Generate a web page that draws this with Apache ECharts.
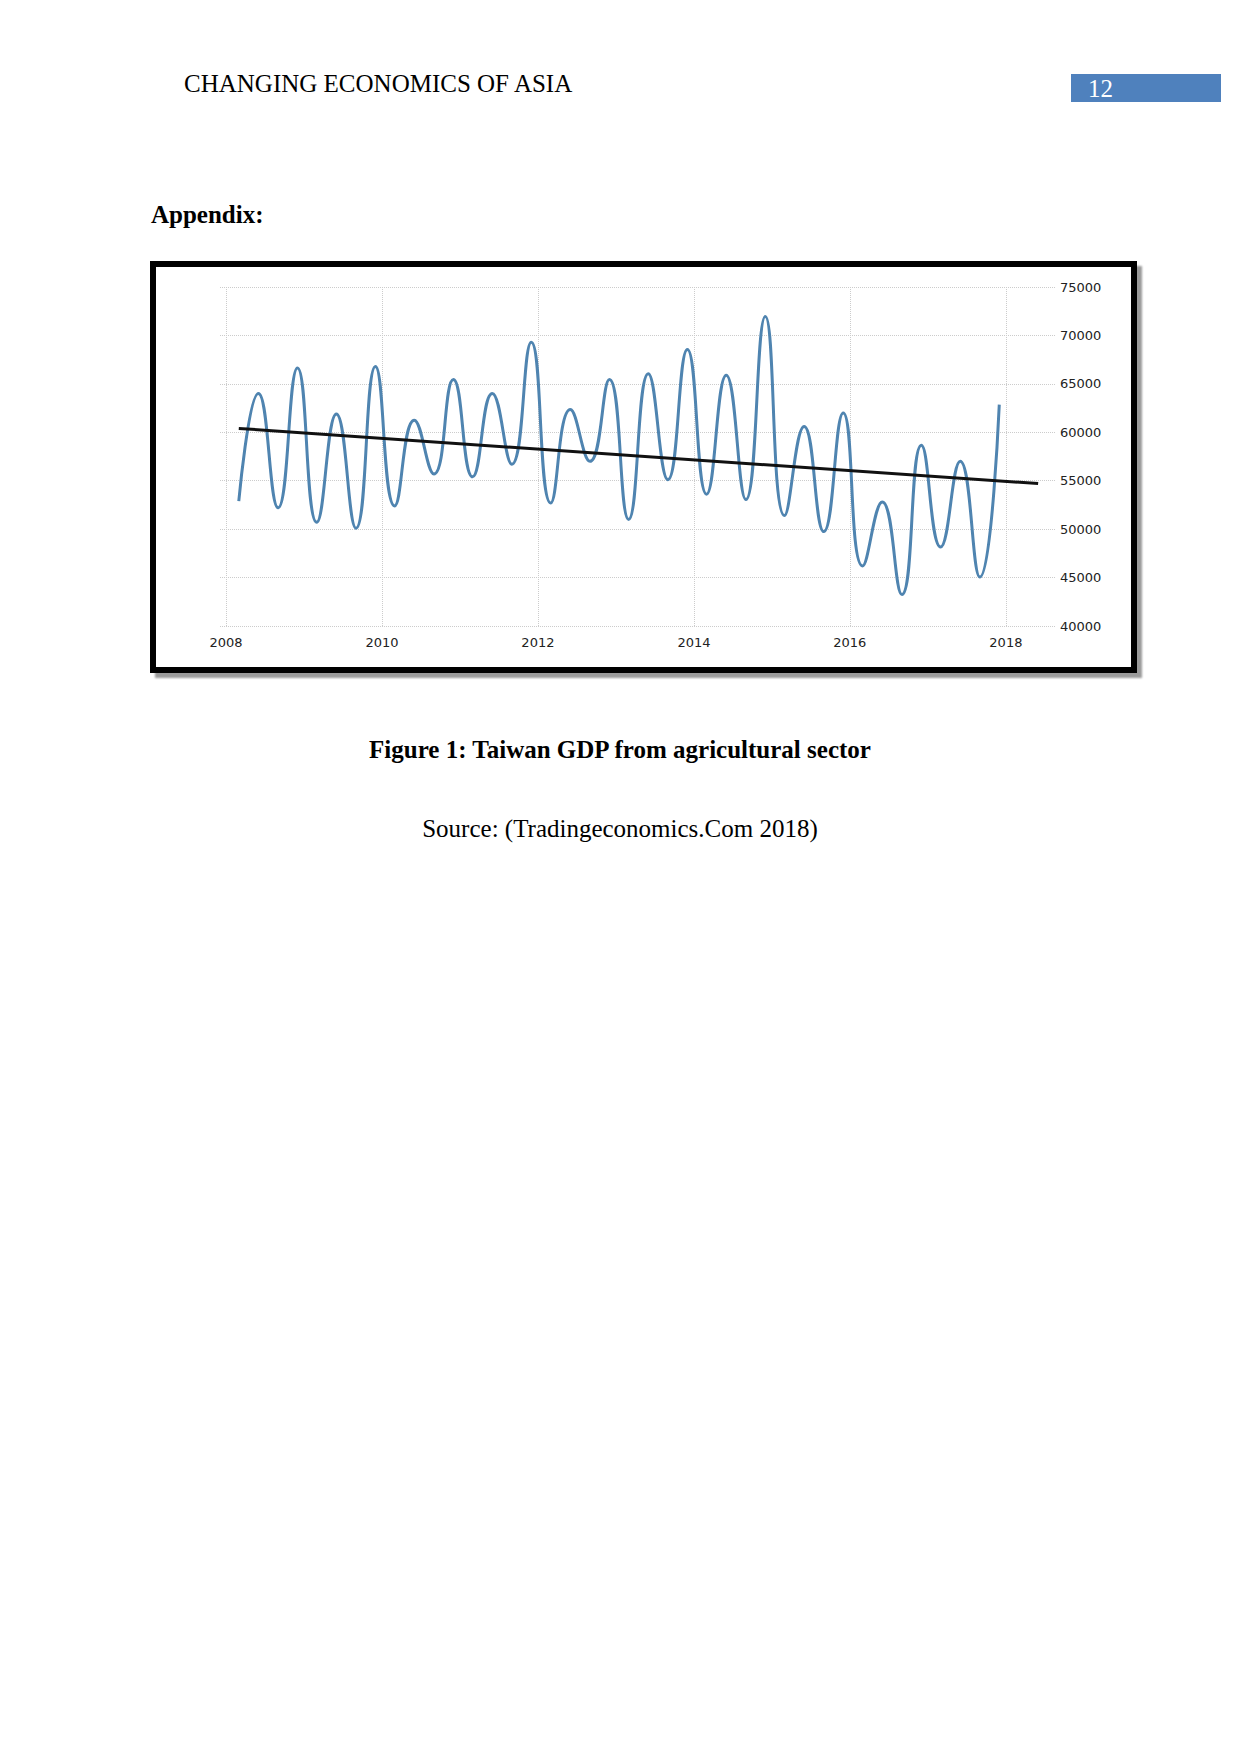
<!DOCTYPE html>
<html>
<head>
<meta charset="utf-8">
<script src="https://cdn.jsdelivr.net/npm/echarts@6/dist/echarts.min.js"></script>
<style>
  html, body { margin: 0; padding: 0; background: #ffffff; }
  body { width: 1241px; height: 1754px; position: relative; overflow: hidden; }
  .t { position: absolute; font-family: "Liberation Serif", "Times New Roman", serif; font-size: 25px; line-height: 25px; color: #000; white-space: nowrap; }
  .b { font-weight: bold; }
  #pagebox { position: absolute; left: 1071px; top: 74px; width: 150px; height: 28px; background: #4f81bd; }
  #frame { position: absolute; left: 150px; top: 261px; width: 987px; height: 412px; box-sizing: border-box; border: 6px solid #000; box-shadow: 5px 5px 2px #9a9a9a; background: #fff; }
  #chart { position: absolute; left: 0; top: 0; width: 975px; height: 400px; }
</style>
</head>
<body>
<div class="t" style="left:184px; top:71px;">CHANGING ECONOMICS OF ASIA</div>
<div id="pagebox"></div>
<div class="t" style="left:1088px; top:76px; color:#fff;">12</div>
<div class="t b" style="left:151px; top:202px;">Appendix:</div>
<div id="frame"><div id="chart"></div></div>
<div class="t b" style="left:0; width:1240px; text-align:center; top:737px;">Figure 1: Taiwan GDP from agricultural sector</div>
<div class="t" style="left:0; width:1240px; text-align:center; top:816px;">Source: (Tradingeconomics.Com 2018)</div>
<script>
// Quarterly dates (plotted at the last month of each quarter)
const quarterDates = [
  '2008-03-01','2008-06-01','2008-09-01','2008-12-01',
  '2009-03-01','2009-06-01','2009-09-01','2009-12-01',
  '2010-03-01','2010-06-01','2010-09-01','2010-12-01',
  '2011-03-01','2011-06-01','2011-09-01','2011-12-01',
  '2012-03-01','2012-06-01','2012-09-01','2012-12-01',
  '2013-03-01','2013-06-01','2013-09-01','2013-12-01',
  '2014-03-01','2014-06-01','2014-09-01','2014-12-01',
  '2015-03-01','2015-06-01','2015-09-01','2015-12-01',
  '2016-03-01','2016-06-01','2016-09-01','2016-12-01',
  '2017-03-01','2017-06-01','2017-09-01','2017-12-01'
];
// Taiwan GDP from agriculture (TWD million)
const gdpValues = [
  52900, 64000, 52200, 66650,
  50700, 61900, 50100, 66800,
  52400, 61250, 55700, 65450,
  55400, 64000, 56700, 69300,
  52700, 62350, 57000, 65450,
  51000, 66050, 55100, 68550,
  53600, 65900, 53050, 71950,
  51400, 60600, 49750, 62000,
  46200, 52800, 43250, 58650,
  48150, 57000, 45050, 62850
];
// Linear trend line end points
const trendDates = ['2008-03-01', '2018-06-01'];
const trendValues = [60400, 54700];
// Axis ticks
const xTickDates = ['2008-01-01','2010-01-01','2012-01-01','2014-01-01','2016-01-01','2018-01-01'];
const yMin = 40000, yMax = 75000, yStep = 5000;

const P = (s) => echarts.time.parse(s).getTime();
const xTicks = xTickDates.map(P);

const chart = echarts.init(document.getElementById('chart'), null, { renderer: 'svg' });
const gridLine = { show: true, lineStyle: { color: '#cccccc', type: 'dotted', width: 1 } };
chart.setOption({
  animation: false,
  backgroundColor: '#ffffff',
  grid: { left: 64, right: 76, top: 20, bottom: 41, containLabel: false },
  xAxis: {
    type: 'time',
    min: P('2007-12-04'),
    max: P('2018-08-19'),
    axisLine: { show: false },
    axisTick: { show: false, customValues: xTicks },
    splitLine: gridLine,
    axisLabel: {
      customValues: xTicks,
      formatter: '{yyyy}',
      margin: 10,
      color: '#222',
      fontFamily: 'DejaVu Sans',
      fontSize: 13
    }
  },
  yAxis: {
    type: 'value',
    position: 'right',
    min: yMin, max: yMax, interval: yStep,
    axisLine: { show: false },
    axisTick: { show: false },
    splitLine: gridLine,
    axisLabel: {
      margin: 5,
      color: '#222',
      fontFamily: 'DejaVu Sans',
      fontSize: 13,
      padding: [4, 0, 0, 0],
      formatter: (v) => String(v)
    }
  },
  series: [
    {
      name: 'GDP from Agriculture',
      type: 'line',
      data: quarterDates.map((d, i) => [P(d), gdpValues[i]]),
      smooth: 0.5,
      showSymbol: false,
      lineStyle: { color: '#4f84b0', width: 3 },
      z: 2
    },
    {
      name: 'Trend',
      type: 'line',
      data: trendDates.map((d, i) => [P(d), trendValues[i]]),
      showSymbol: false,
      lineStyle: { color: '#111', width: 3 },
      z: 3
    }
  ]
});
</script>
</body>
</html>
